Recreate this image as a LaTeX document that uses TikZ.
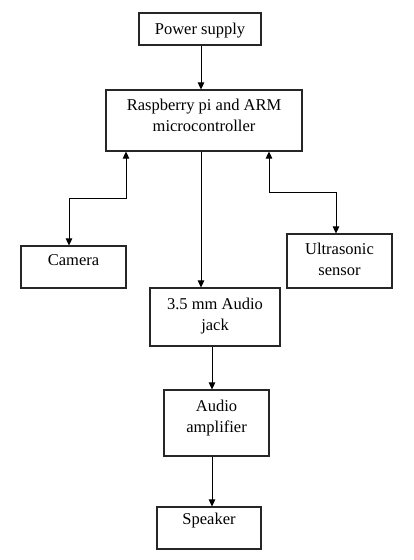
\documentclass[tikz,border=0pt]{standalone}
\usepackage{fontspec}
\setmainfont{Liberation Serif}
\usetikzlibrary{arrows.meta}
\begin{document}
\begin{tikzpicture}[x=1pt,y=-1pt,
  box/.style={draw=black!85,line width=1.1pt,rectangle,inner sep=0pt},
  lbl/.style={anchor=north,inner sep=0pt,align=center,font=\fontsize{16.5}{21}\selectfont},
  arr/.style={line width=0.8pt,-{Triangle[length=7pt,width=6.5pt]}},
  arrb/.style={line width=0.8pt,{Triangle[length=7pt,width=6.5pt]}-{Triangle[length=7pt,width=6.5pt]}}]
\useasboundingbox (0,0) rectangle (414,560);
% boxes
\node[box,minimum width=122pt,minimum height=32pt] (ps) at (200,29) {};
\node[box,minimum width=196pt,minimum height=61pt] (rp) at (204,120.5) {};
\node[box,minimum width=105pt,minimum height=42pt] (cam) at (73.5,267) {};
\node[box,minimum width=105pt,minimum height=54pt] (us) at (339.5,261) {};
\node[box,minimum width=130pt,minimum height=58pt] (aj) at (215,317) {};
\node[box,minimum width=105pt,minimum height=66pt] (amp) at (216.5,423) {};
\node[box,minimum width=104pt,minimum height=42pt] (spk) at (209,528) {};
% labels
\node[lbl] (tps) at ([yshift=-10pt]ps.north) {Power supply};
\node[lbl] (trp) at ([yshift=-9.5pt]rp.north) {Raspberry pi and ARM\\microcontroller};
\node[lbl] (tcam) at ([yshift=-9pt]cam.north) {Camera};
\node[lbl] (tus) at ([yshift=-9pt]us.north) {Ultrasonic\\sensor};
\node[lbl] (taj) at ([yshift=-10pt]aj.north) {3.5 mm Audio\\jack};
\node[lbl] (tamp) at ([yshift=-10pt]amp.north) {Audio\\amplifier};
\node[lbl] (tspk) at ([yshift=-6pt]spk.north) {Speaker};
% helper coordinates
\coordinate (cm) at (201,0);
\coordinate (cl) at (126,198);
\coordinate (cr) at (269,192);
\coordinate (ca) at (212,0);
% connectors
\draw[arr] (ps.south -| cm) -- (rp.north -| cm);
\draw[arr] (rp.south -| cm) -- (aj.north -| cm);
\draw[arrb] ([xshift=-4.5pt]cam.north) |- (cl) -- (cl |- rp.south);
\draw[arrb] (cr |- rp.south) -- (cr) -| ([xshift=-3.5pt]us.north);
\draw[arr] (aj.south -| ca) -- (amp.north -| ca);
\draw[arr] (amp.south -| ca) -- (spk.north -| ca);
\end{tikzpicture}
\end{document}
